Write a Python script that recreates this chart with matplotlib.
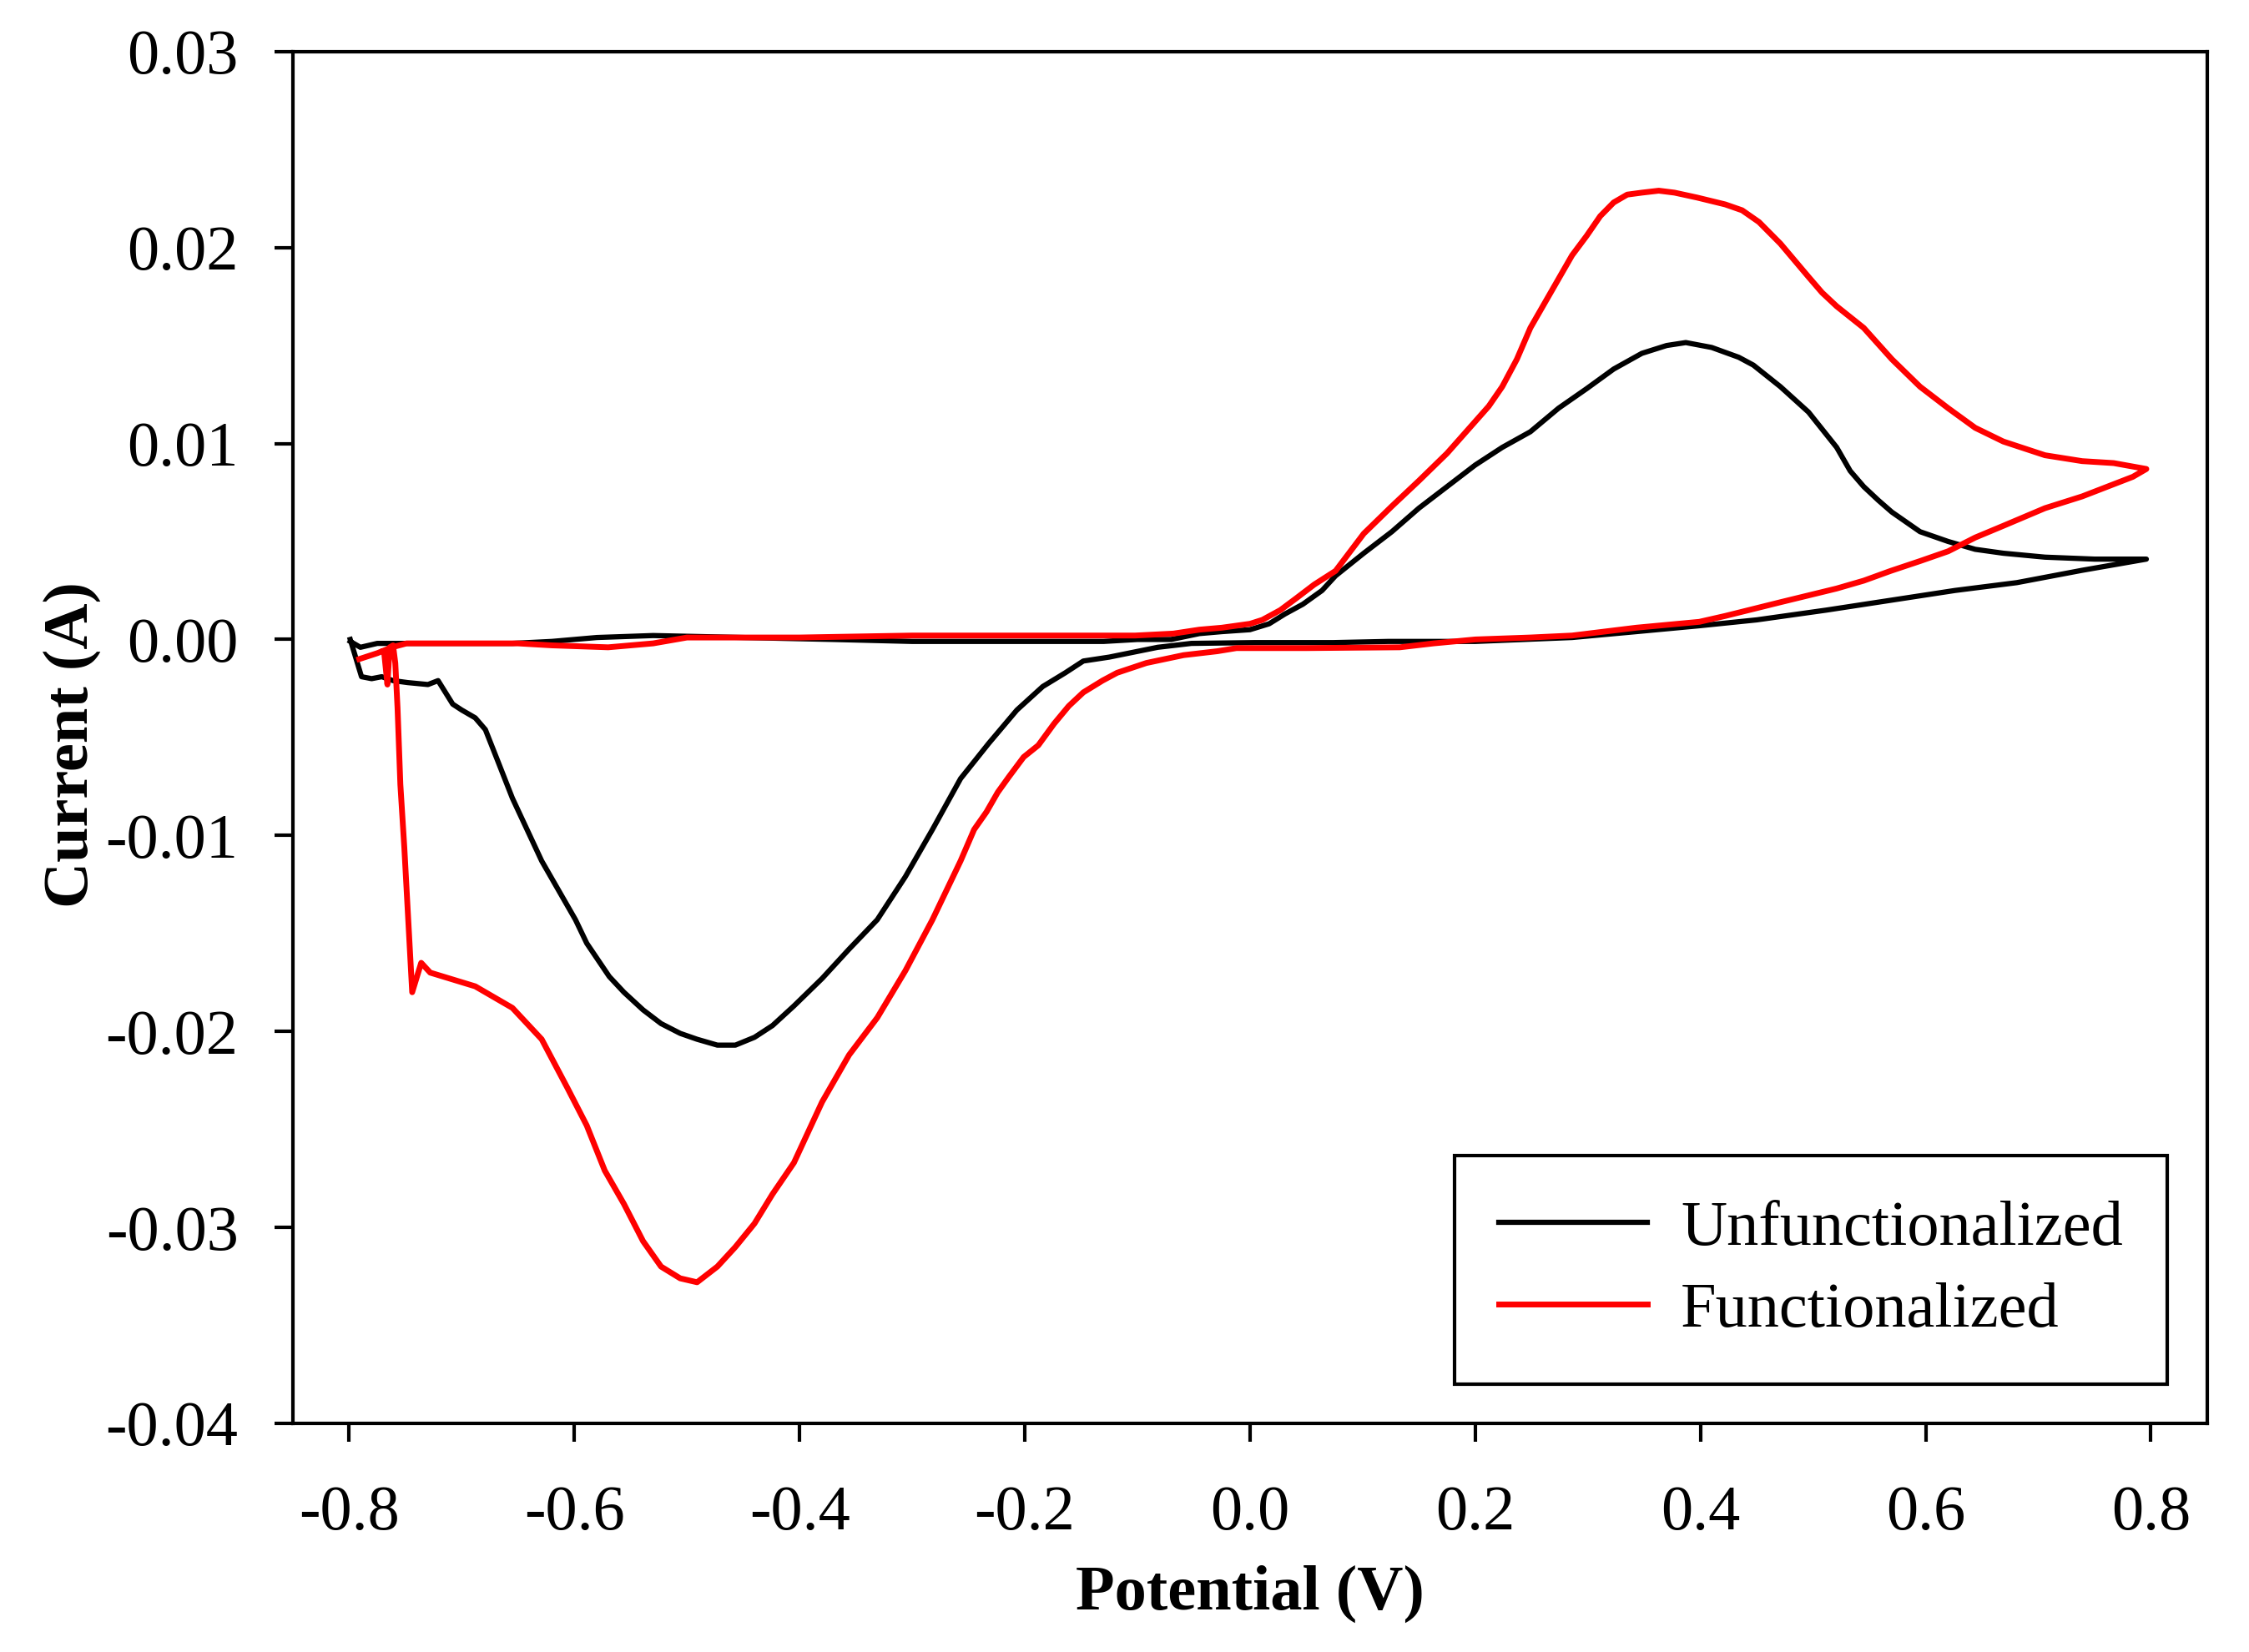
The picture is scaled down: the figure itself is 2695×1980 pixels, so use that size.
import numpy as np
import matplotlib
matplotlib.use("Agg")
from matplotlib import pyplot as plt
from matplotlib.ticker import FuncFormatter

# cyclic voltammograms, points in scan order (forward to +0.8 V, then back)
unf_v = [-0.799, -0.790, -0.775, -0.700, -0.655, -0.620, -0.580, -0.530, -0.450, -0.370,
         -0.300, -0.200, -0.130, -0.100, -0.070, -0.045, -0.025, 0.000, 0.017, 0.031,
         0.047, 0.064, 0.076, 0.101, 0.126, 0.150, 0.175, 0.200, 0.224, 0.249,
         0.274, 0.299, 0.323, 0.348, 0.370, 0.387, 0.410, 0.434, 0.447, 0.471,
         0.496, 0.521, 0.533, 0.545, 0.558, 0.570, 0.595, 0.620, 0.644, 0.669,
         0.706, 0.750, 0.796,
         0.739, 0.681, 0.626, 0.569, 0.512, 0.450, 0.399, 0.343, 0.286,
         0.200, 0.123, 0.074, 0.004, -0.052, -0.082, -0.125, -0.148, -0.164, -0.184,
         -0.207, -0.232, -0.257, -0.282, -0.306, -0.331, -0.356, -0.380, -0.405, -0.424,
         -0.440, -0.457, -0.473, -0.491, -0.506, -0.523, -0.539, -0.556, -0.569, -0.589,
         -0.599, -0.629, -0.655, -0.668, -0.679, -0.688, -0.700, -0.708, -0.721, -0.730,
         -0.748, -0.761, -0.771, -0.780, -0.789, -0.799]
unf_i = [-0.0001, -0.0004, -0.0002, -0.0002, -0.0002, -0.0001, 0.0001, 0.0002, 0.0001, 0.0000,
         -0.0001, -0.0001, -0.0001, 0.0000, 0.0000, 0.0003, 0.0004, 0.0005, 0.0008, 0.0013,
         0.0018, 0.0025, 0.00325, 0.0044, 0.0055, 0.0067, 0.0078, 0.0089, 0.0098, 0.0106,
         0.0118, 0.0128, 0.0138, 0.0146, 0.0150, 0.01515, 0.0149, 0.0144, 0.0140, 0.0129,
         0.0116, 0.0098, 0.0086, 0.0078, 0.0071, 0.0065, 0.0055, 0.0050, 0.0046, 0.0044,
         0.0042, 0.0041, 0.0041,
         0.00353, 0.0029, 0.0025, 0.0020, 0.0015, 0.0010, 0.0007, 0.0004, 0.0001,
         -0.0001, -0.0001, -0.00016, -0.00016, -0.0002, -0.0004, -0.0009, -0.0011, -0.0017, -0.0024,
         -0.0036, -0.0053, -0.0071, -0.0097, -0.0121, -0.0143, -0.0158, -0.0173, -0.0187, -0.0197,
         -0.0203, -0.0207, -0.0207, -0.0204, -0.0201, -0.0196, -0.0189, -0.0180, -0.0172, -0.0155,
         -0.0143, -0.0113, -0.0081, -0.0062, -0.0046, -0.0040, -0.0036, -0.0033, -0.0021, -0.0023,
         -0.0022, -0.0021, -0.0019, -0.0020, -0.0019, 0.0000]

fun_v = [-0.791, -0.775, -0.762, -0.749, -0.700, -0.650, -0.620, -0.570, -0.530, -0.500,
         -0.400, -0.300, -0.200, -0.102, -0.068, -0.045, -0.025, 0.000, 0.011, 0.027,
         0.041, 0.057, 0.076, 0.101, 0.126, 0.150, 0.175, 0.192, 0.212, 0.224,
         0.237, 0.249, 0.262, 0.274, 0.286, 0.299, 0.311, 0.323, 0.335, 0.348,
         0.363, 0.377, 0.397, 0.422, 0.437, 0.452, 0.471, 0.496, 0.508, 0.521,
         0.545, 0.570, 0.595, 0.620, 0.644, 0.669, 0.706, 0.739, 0.767, 0.796,
         0.784, 0.739, 0.706, 0.669, 0.644, 0.620, 0.595, 0.569, 0.545, 0.521,
         0.471, 0.422, 0.399, 0.343, 0.286, 0.249, 0.200, 0.163, 0.133, 0.050,
         -0.012, -0.029, -0.059, -0.092, -0.118, -0.131, -0.148, -0.161, -0.174, -0.188,
         -0.201, -0.214, -0.224, -0.234, -0.245, -0.257, -0.282, -0.306, -0.331, -0.356,
         -0.380, -0.405, -0.424, -0.440, -0.457, -0.473, -0.491, -0.506, -0.523, -0.539,
         -0.556, -0.573, -0.589, -0.606, -0.629, -0.655, -0.688, -0.728, -0.736, -0.744,
         -0.748, -0.751, -0.7545, -0.757, -0.759, -0.761, -0.764, -0.766, -0.769]
fun_i = [-0.0010, -0.0007, -0.0004, -0.0002, -0.0002, -0.0002, -0.0003, -0.0004, -0.0002, 0.0001,
         0.0001, 0.0002, 0.0002, 0.0002, 0.0003, 0.0005, 0.0006, 0.0008, 0.0010, 0.0015,
         0.0021, 0.0028, 0.0035, 0.0054, 0.0068, 0.0081, 0.0095, 0.0106, 0.0119, 0.0129,
         0.0143, 0.0159, 0.0172, 0.0184, 0.0196, 0.0206, 0.0216, 0.0223, 0.0227, 0.0228,
         0.0229, 0.0228, 0.02255, 0.0222, 0.0219, 0.0213, 0.0202, 0.0185, 0.0177, 0.0170,
         0.0159, 0.0143, 0.0129, 0.0118, 0.0108, 0.0101, 0.0094, 0.0091, 0.0090, 0.0087,
         0.0083, 0.0073, 0.0067, 0.0058, 0.0052, 0.0045, 0.0040, 0.0035, 0.0030, 0.0026,
         0.0019, 0.0012, 0.0009, 0.0006, 0.0002, 0.0001, 0.0000, -0.0002, -0.0004, -0.00044,
         -0.00044, -0.0006, -0.0008, -0.0012, -0.0017, -0.0021, -0.0027, -0.0034, -0.0043, -0.0054,
         -0.0060, -0.0070, -0.0078, -0.0088, -0.0097, -0.0113, -0.0143, -0.0169, -0.0193, -0.0212,
         -0.0236, -0.0267, -0.0283, -0.0298, -0.0310, -0.0320, -0.0328, -0.0326, -0.0320, -0.0307,
         -0.0288, -0.0271, -0.0248, -0.0229, -0.0204, -0.0188, -0.0177, -0.0170, -0.0165, -0.0180,
         -0.0138, -0.0106, -0.0074, -0.0035, -0.0012, -0.0003, -0.0004, -0.0023, -0.0006]

x_ticks = [-0.8, -0.6, -0.4, -0.2, 0.0, 0.2, 0.4, 0.6, 0.8]
y_ticks = [-0.04, -0.03, -0.02, -0.01, 0.00, 0.01, 0.02, 0.03]

plt.rcParams['font.family'] = ['Liberation Serif', 'DejaVu Serif']
plt.rcParams['axes.unicode_minus'] = False

fig = plt.figure(figsize=(26.95, 19.8), dpi=100)
ax = fig.add_axes([0.1302, 0.1384, 0.8512, 0.8304])

ax.plot(unf_v, unf_i, color='black', lw=4.5, label='Unfunctionalized')
ax.plot(fun_v, fun_i, color='#ff0000', lw=5.0, label='Functionalized')

ax.set_xlim(-0.85, 0.85)
ax.set_ylim(-0.04, 0.03)
ax.set_xticks(x_ticks)
ax.set_yticks(y_ticks)
ax.xaxis.set_major_formatter(FuncFormatter(lambda v, p: f"{v:.1f}"))
ax.yaxis.set_major_formatter(FuncFormatter(lambda v, p: f"{v:.2f}"))

for s in ax.spines.values():
    s.set_linewidth(3)
ax.tick_params(axis='both', direction='out', length=16, width=3, labelsize=55)
ax.tick_params(axis='x', pad=37)
ax.tick_params(axis='y', pad=31)

ax.set_xlabel('Potential (V)', fontsize=55, fontweight='bold')
ax.set_ylabel('Current (A)', fontsize=55, fontweight='bold')
ax.xaxis.set_label_coords(0.5, -0.1030)
ax.yaxis.set_label_coords(-0.1003, 0.495)

leg = ax.legend(loc='upper left', bbox_to_anchor=(0.6068, 0.1952), fontsize=55,
                frameon=True, fancybox=False, framealpha=1, edgecolor='black',
                borderpad=0.7, handlelength=2.33, handletextpad=0.52,
                labelspacing=0.37, borderaxespad=0)
leg.get_frame().set_linewidth(3)

fig.savefig('out.png', dpi=100)
